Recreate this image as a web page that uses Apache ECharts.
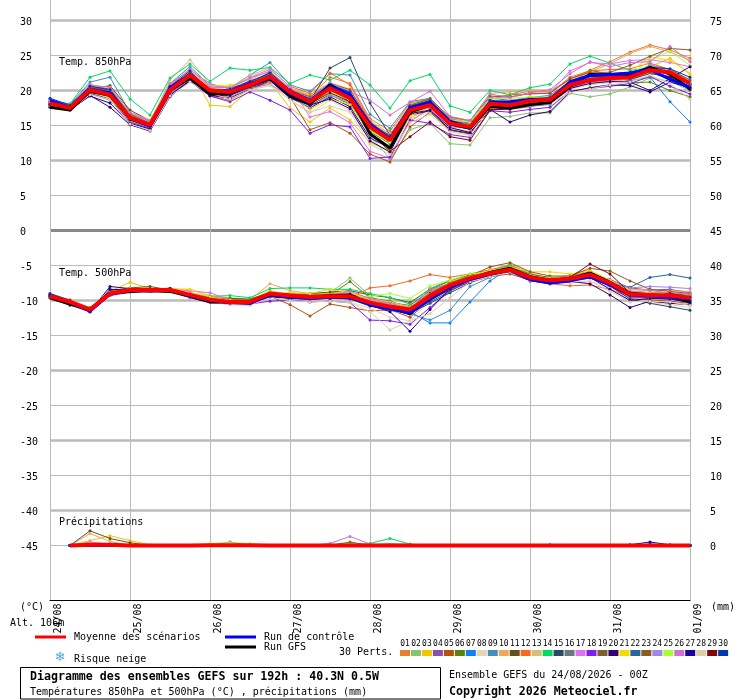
<!DOCTYPE html>
<html><head><meta charset="utf-8">
<style>html,body{margin:0;padding:0;background:#fff}#c{width:740px;height:700px}</style>
<script src="https://cdn.jsdelivr.net/npm/echarts@6/dist/echarts.min.js"></script>
</head><body><div id="c"></div>
<script>
const dates=['24/08','25/08','26/08','27/08','28/08','29/08','30/08','31/08','01/09'];
const leftTicks=[30,25,20,15,10,5,0,-5,-10,-15,-20,-25,-30,-35,-40,-45];
const rightTicks=[75,70,65,60,55,50,45,40,35,30,25,20,15,10,5,0];
const heavyTicks=[30,20,10,-10,-20,-30,-40];
const zeroTick=[0];
const memberLabels=['01','02','03','04','05','06','07','08','09','10','11','12','13','14','15','16','17','18','19','20','21','22','23','24','25','26','27','28','29','30'];
const memberColors=['#E87D2E','#85C56B','#F2C500','#8E4DA8','#B5510F','#5A8208','#0F80F5','#E8D5AF','#3E8FBB','#EBA95A','#64501E','#FC6620','#D2C07A','#00D962','#264A63','#6B7680','#DF70F0','#7D1FF0','#7B5F2E','#32006F','#F2DC00','#26669E','#8E5A20','#9F86E8','#A6FF33','#D070D0','#1C0098','#E0CDA8','#820608','#0038B4'];

const t850Mean=[18.2,17.5,20.1,19.4,16.1,15.1,20.1,22.2,20.0,19.8,20.8,22.0,19.8,18.4,20.3,18.9,14.8,12.9,17.2,17.9,15.3,14.8,18.1,17.9,18.5,18.7,20.8,21.5,21.8,21.9,22.9,22.6,21.0];
const t850Control=[18.6,17.6,20.2,19.7,16.0,14.9,20.4,22.3,19.9,19.9,21.0,21.8,19.6,18.3,20.6,19.4,15.2,13.0,17.5,18.3,15.6,14.7,18.3,18.4,18.7,18.7,21.2,22.1,22.3,22.5,23.0,21.6,20.4];
const t850Gfs=[17.6,17.2,19.9,19.3,16.0,15.0,20.0,21.8,19.5,19.6,20.9,21.7,19.2,18.1,20.8,19.2,13.8,11.8,16.9,17.9,15.2,14.6,17.7,17.5,18.0,18.3,20.6,22.3,22.2,22.1,23.3,22.4,20.2];
const t850Members=[
[18.6,17.8,20.4,19.9,16.4,15.3,20.4,22.6,20.3,20.1,21.2,22.4,20.4,19.2,21.9,21.0,16.0,14.2,18.2,18.8,16.0,15.4,19.0,19.4,19.9,19.8,21.6,22.9,24.1,25.5,26.5,25.8,24.6],
[18.0,17.2,19.5,18.6,15.6,14.7,19.6,21.8,19.6,19.3,20.4,21.6,19.2,17.8,19.6,18.2,13.6,10.2,14.4,15.3,12.4,12.2,16.1,16.3,16.8,16.8,19.6,19.1,19.5,20.5,21.8,21.3,20.0],
[18.1,17.4,19.9,19.6,16.0,15.0,19.9,22.9,17.9,17.7,20.1,21.2,17.5,15.5,17.5,15.8,12.5,11.5,16.1,17.3,14.6,14.1,17.6,17.8,18.2,18.4,20.5,21.0,21.5,21.6,23.4,24.6,22.3],
[18.3,17.6,20.6,20.0,16.3,15.2,20.0,21.9,19.7,20.2,21.4,22.3,19.9,18.9,20.9,19.4,15.4,13.6,17.6,18.4,15.7,15.2,18.5,18.2,18.7,19.1,21.2,21.9,22.2,22.3,23.3,22.2,20.3],
[17.9,17.3,19.8,19.1,15.8,14.8,19.7,21.6,19.5,18.9,20.3,21.7,19.1,14.4,15.4,13.9,10.9,9.8,14.8,16.9,14.3,13.8,17.4,17.3,17.7,18.1,20.2,21.3,21.2,21.5,22.6,21.8,20.2],
[18.2,17.6,20.2,19.5,16.2,15.2,20.2,22.0,20.1,19.6,20.6,21.9,19.7,17.9,19.4,18.0,14.1,12.4,16.6,17.7,15.1,14.6,17.9,17.6,18.4,18.3,20.9,22.9,22.3,21.1,21.2,20.0,19.1],
[18.4,17.7,20.5,19.8,16.6,15.4,20.6,22.5,20.2,20.0,21.1,22.6,20.2,18.8,20.7,19.7,15.2,13.3,17.9,18.2,15.6,15.0,18.0,17.4,17.8,18.0,20.9,21.3,21.7,21.4,21.9,18.4,15.5],
[17.8,17.3,19.7,19.0,15.4,14.4,19.4,21.5,19.4,19.2,20.0,21.1,18.6,16.8,18.6,17.1,13.0,11.2,15.9,17.0,14.6,14.2,17.8,18.0,18.4,18.9,20.2,20.8,21.1,21.6,22.0,21.2,20.4],
[18.7,18.0,21.2,21.9,16.8,15.6,21.0,23.4,20.7,20.4,22.2,24.0,20.8,19.9,22.4,22.2,16.6,14.6,18.4,18.9,15.9,15.3,18.9,18.6,19.0,19.3,21.3,22.1,22.4,22.2,22.6,21.6,20.7],
[18.5,17.7,20.8,20.4,16.5,15.5,20.7,23.0,20.4,20.6,21.6,22.8,20.3,19.4,21.1,20.2,15.7,13.8,18.0,18.7,16.1,15.6,19.6,19.8,20.1,20.0,21.4,22.7,23.8,25.3,26.3,25.5,24.3],
[17.9,17.4,20.2,20.7,17.2,15.7,20.2,22.3,19.8,19.4,20.7,21.8,19.4,18.0,20.2,18.4,14.4,13.0,17.8,18.6,15.8,15.0,18.6,18.4,19.0,18.8,21.0,21.6,21.6,21.8,23.1,22.4,20.8],
[18.3,17.5,20.0,19.3,16.0,15.0,20.3,22.4,19.2,18.6,20.2,21.2,20.6,19.6,22.5,20.8,15.6,13.2,17.3,18.0,15.5,15.1,18.7,19.4,19.5,19.6,21.9,22.8,23.0,23.1,23.9,23.0,21.5],
[18.4,17.8,20.3,19.7,16.3,15.4,21.5,24.4,20.9,20.3,22.2,23.2,20.5,18.7,20.6,19.5,15.0,13.0,16.8,17.5,15.0,14.5,17.8,17.6,18.3,18.5,20.5,21.2,21.4,21.7,22.5,22.9,21.3],
[18.5,18.1,21.9,22.8,18.8,16.5,21.8,23.8,21.3,23.2,22.9,23.3,21.0,22.2,21.5,22.9,20.8,17.5,21.4,22.3,17.8,16.9,20.0,19.4,20.4,20.9,23.8,24.9,23.9,22.9,23.2,22.2,21.0],
[18.1,17.4,20.1,19.3,15.9,15.0,20.0,22.1,19.9,19.7,20.7,21.9,20.0,18.5,23.2,24.7,18.2,13.6,17.5,18.1,15.2,14.9,18.3,18.0,18.6,18.6,20.6,21.4,21.9,21.6,22.4,22.0,20.5],
[18.0,17.5,20.0,19.4,16.1,15.1,20.0,22.0,19.9,19.5,20.6,21.8,19.5,18.0,20.0,18.7,14.6,12.5,16.9,17.8,15.1,14.5,18.1,18.0,18.5,18.6,20.7,21.6,21.9,22.0,23.2,22.4,20.9],
[18.6,17.9,20.9,20.1,16.7,15.5,21.0,22.9,21.0,20.2,21.9,23.0,20.6,16.2,17.0,15.4,11.3,10.3,15.6,17.4,14.8,14.6,18.9,19.0,19.6,19.6,22.8,24.0,23.8,24.3,24.4,24.0,23.4],
[18.1,17.3,19.6,18.8,15.5,14.6,19.5,21.3,19.2,18.4,19.8,18.6,17.2,13.9,15.1,14.8,10.3,10.5,15.8,15.3,13.7,13.3,17.1,16.9,17.3,17.6,19.9,20.3,20.6,21.0,22.0,20.6,19.5],
[18.2,17.6,20.5,20.1,16.4,15.3,20.4,22.3,20.1,19.9,20.9,22.1,20.0,18.6,20.6,19.1,14.9,13.1,17.4,18.2,15.4,14.9,18.4,18.4,18.9,19.0,20.9,21.7,22.0,22.3,23.6,23.0,21.5],
[17.7,17.2,19.3,17.6,15.1,14.2,19.1,21.4,19.3,18.9,20.2,21.4,19.0,17.5,19.1,17.7,13.2,11.8,16.5,17.1,14.4,13.9,17.3,15.5,16.5,17.0,19.8,20.4,20.8,20.7,19.8,21.2,20.4],
[18.3,17.7,20.6,20.2,16.8,15.8,20.8,23.0,20.6,20.8,21.0,21.4,19.2,17.3,18.8,18.0,13.9,11.9,16.4,17.6,15.3,15.1,18.4,18.6,18.9,18.9,21.2,21.8,22.0,22.6,24.8,24.3,22.5],
[18.4,17.6,20.3,19.6,16.2,15.2,20.3,22.6,20.0,20.0,21.0,22.3,19.9,18.8,20.9,19.6,15.3,13.5,17.7,18.5,15.6,15.0,18.2,18.2,18.7,18.9,21.1,21.8,22.1,22.4,23.0,22.3,20.9],
[18.3,17.5,20.6,20.2,16.6,15.3,20.5,22.4,20.2,19.7,20.9,22.6,20.1,19.1,21.0,20.1,15.5,13.4,17.9,18.8,16.2,15.7,19.2,19.1,19.6,19.6,21.7,22.6,22.6,23.6,24.9,26.0,25.8],
[18.2,17.5,19.9,19.1,15.9,14.9,19.6,21.6,19.5,19.1,20.3,20.9,19.1,17.6,19.3,18.3,14.4,12.7,17.0,17.6,15.0,14.7,17.9,18.3,18.5,18.5,20.4,21.2,21.4,21.8,23.7,22.7,21.1],
[18.5,17.6,19.8,18.9,15.7,15.0,20.2,22.1,20.0,19.8,20.6,21.7,19.6,18.2,19.9,18.6,14.3,12.6,17.1,18.0,15.8,15.5,18.8,18.9,19.1,19.0,21.0,21.8,21.6,22.2,24.3,25.6,23.6],
[18.4,17.9,20.7,20.5,16.9,15.7,20.8,23.1,20.5,20.4,21.8,22.7,20.2,18.9,21.1,19.8,18.6,16.5,18.3,19.9,16.3,15.7,19.5,19.0,19.7,20.1,22.4,24.1,23.4,24.0,24.1,26.3,24.1],
[17.6,17.3,19.2,18.2,15.3,14.5,19.3,21.5,19.3,19.3,20.5,21.5,18.9,17.9,18.8,17.4,12.8,11.2,16.7,17.2,14.7,14.0,17.2,17.4,17.9,18.2,20.3,21.0,21.3,21.2,20.0,21.7,23.4],
[17.9,17.2,19.4,18.7,15.2,14.3,19.2,21.2,19.6,18.8,20.1,20.7,18.7,16.9,17.8,16.9,12.3,10.9,15.4,16.6,14.1,13.6,17.5,17.7,17.9,18.1,19.7,20.2,20.8,21.2,22.2,21.0,18.7],
[18.0,17.4,19.8,19.2,15.8,14.9,19.8,21.9,19.8,19.6,20.5,21.7,19.4,18.1,19.7,18.4,14.0,11.3,13.4,15.5,13.4,12.9,17.2,17.5,18.0,18.2,20.5,21.3,21.6,21.8,22.8,21.9,20.1],
[18.9,17.9,20.6,20.1,16.3,15.1,20.6,22.8,20.0,20.2,21.3,22.5,20.1,18.8,20.8,19.8,15.1,13.4,17.7,18.5,15.4,14.7,18.6,18.2,18.8,19.0,21.4,22.3,22.4,22.6,23.3,23.1,21.9]
];

const t500Mean=[-9.4,-10.2,-11.3,-9.0,-8.5,-8.5,-8.5,-9.2,-9.9,-10.2,-10.2,-9.0,-9.3,-9.5,-9.4,-9.4,-10.3,-10.9,-11.3,-9.4,-7.8,-6.8,-6.1,-5.6,-6.7,-7.1,-6.9,-6.3,-7.5,-9.1,-9.2,-9.3,-9.6];
const t500Control=[-9.3,-10.3,-11.5,-9.1,-8.5,-8.6,-8.5,-9.3,-10.0,-10.3,-10.4,-9.2,-9.5,-9.7,-9.5,-9.6,-10.6,-11.2,-11.8,-9.8,-8.1,-7.0,-6.2,-5.7,-7.0,-7.5,-7.2,-6.6,-7.8,-9.2,-9.3,-9.5,-9.8];
const t500Gfs=[-9.6,-10.5,-11.4,-9.0,-8.7,-8.6,-8.7,-9.4,-10.2,-10.2,-10.2,-9.3,-9.5,-9.6,-9.3,-9.2,-10.4,-11.0,-11.9,-9.3,-7.9,-6.9,-6.0,-5.4,-6.6,-7.1,-6.9,-6.1,-7.4,-9.0,-9.2,-9.4,-10.2];
const t500Members=[
[-9.2,-10.0,-11.1,-8.9,-8.4,-8.4,-8.4,-9.0,-9.7,-10.0,-10.0,-8.8,-9.1,-9.3,-9.1,-9.1,-9.8,-10.6,-10.9,-8.8,-7.5,-6.6,-5.8,-5.3,-6.4,-6.9,-6.6,-6.0,-7.3,-8.7,-8.9,-8.9,-9.1],
[-9.5,-10.6,-11.1,-9.3,-8.6,-8.6,-8.5,-9.4,-10.0,-10.1,-10.3,-9.1,-9.4,-9.4,-8.9,-6.8,-9.3,-11.0,-11.4,-9.6,-8.0,-6.9,-6.3,-5.9,-6.9,-7.2,-7.0,-6.5,-7.7,-9.4,-9.5,-9.7,-10.0],
[-9.6,-10.3,-11.6,-8.7,-7.4,-8.3,-8.6,-8.4,-9.3,-9.6,-9.9,-8.6,-9.2,-9.2,-9.0,-8.9,-9.9,-11.2,-11.9,-9.2,-7.3,-6.7,-6.0,-5.3,-6.5,-7.0,-6.8,-6.3,-7.6,-9.3,-9.0,-9.4,-9.8],
[-9.3,-10.1,-11.4,-8.8,-8.5,-8.7,-8.3,-9.1,-9.8,-10.4,-10.4,-9.2,-9.5,-9.7,-9.5,-9.6,-10.4,-10.3,-10.7,-8.6,-7.5,-6.6,-6.2,-5.7,-6.9,-7.4,-7.2,-6.2,-7.0,-8.2,-8.5,-8.4,-8.9],
[-9.4,-10.3,-11.2,-9.2,-8.7,-8.4,-8.7,-9.3,-10.1,-10.3,-10.4,-9.4,-10.6,-12.2,-10.5,-11.0,-11.5,-11.3,-12.4,-9.9,-8.5,-7.4,-6.6,-6.2,-7.1,-7.6,-7.2,-6.8,-7.9,-9.7,-9.9,-10.1,-10.4],
[-9.6,-10.7,-11.0,-9.1,-8.6,-8.3,-8.6,-9.4,-9.8,-9.8,-9.9,-9.0,-9.0,-9.2,-9.2,-7.3,-9.6,-10.1,-11.0,-8.9,-7.4,-6.4,-5.9,-4.9,-6.2,-6.9,-6.5,-5.9,-7.4,-9.0,-9.3,-9.5,-10.2],
[-9.2,-10.1,-11.5,-9.0,-8.4,-8.6,-8.3,-9.0,-9.9,-10.3,-10.1,-9.0,-9.3,-9.6,-9.6,-9.4,-10.2,-11.4,-11.6,-13.2,-13.2,-10.2,-7.2,-5.4,-6.6,-7.2,-7.0,-6.3,-7.4,-8.7,-8.9,-9.0,-9.4],
[-9.5,-10.4,-11.2,-9.2,-8.7,-8.5,-8.8,-8.9,-10.0,-10.5,-10.4,-9.1,-9.6,-9.8,-9.7,-10.2,-11.1,-12.4,-12.9,-10.1,-8.2,-7.0,-6.3,-5.7,-6.9,-7.4,-7.5,-7.3,-8.1,-10.0,-10.3,-10.6,-11.0],
[-9.3,-10.2,-11.3,-9.1,-8.6,-8.4,-8.6,-9.2,-9.8,-10.1,-10.2,-8.9,-9.2,-9.5,-9.2,-9.3,-10.3,-11.0,-11.9,-12.8,-11.4,-8.0,-6.7,-5.6,-6.8,-7.3,-7.0,-6.5,-7.8,-9.2,-9.5,-9.7,-10.1],
[-9.0,-9.9,-11.0,-8.8,-8.3,-8.4,-8.2,-8.8,-9.6,-10.0,-9.9,-7.6,-8.6,-9.0,-8.9,-8.9,-9.9,-10.4,-11.0,-9.1,-7.4,-6.4,-5.7,-4.8,-6.1,-6.8,-6.4,-5.8,-7.1,-8.4,-8.5,-8.6,-8.7],
[-9.6,-10.5,-11.2,-8.6,-8.2,-8.0,-8.5,-9.3,-9.6,-9.7,-9.8,-8.9,-9.1,-9.0,-8.8,-8.6,-9.2,-9.6,-10.3,-8.4,-7.2,-6.3,-5.9,-5.1,-6.3,-6.7,-6.7,-6.0,-7.2,-8.8,-9.1,-9.0,-9.3],
[-9.2,-9.9,-11.2,-9.1,-8.5,-8.5,-8.5,-9.2,-9.9,-10.2,-10.2,-9.0,-9.4,-9.5,-9.4,-9.6,-8.2,-7.9,-7.2,-6.3,-6.7,-6.2,-5.6,-5.0,-6.4,-7.6,-7.9,-7.8,-8.4,-9.5,-9.6,-9.6,-9.7],
[-9.4,-10.3,-11.1,-9.0,-8.7,-8.6,-8.4,-9.1,-9.8,-10.1,-10.3,-9.1,-9.5,-9.4,-9.5,-9.4,-10.6,-11.4,-12.0,-10.0,-8.0,-7.0,-6.1,-5.5,-6.6,-7.0,-6.6,-6.1,-7.7,-9.6,-9.7,-9.8,-10.1],
[-9.3,-10.2,-11.0,-9.0,-8.5,-8.6,-8.4,-9.3,-9.4,-9.3,-9.6,-8.3,-8.2,-8.2,-8.4,-8.4,-9.0,-9.6,-10.5,-8.3,-7.1,-6.5,-5.8,-5.0,-6.5,-7.0,-6.7,-6.2,-7.3,-9.0,-9.1,-9.2,-9.4],
[-9.5,-10.4,-11.4,-9.2,-8.6,-8.7,-8.6,-9.3,-10.0,-10.3,-10.3,-9.2,-9.5,-9.8,-9.7,-9.8,-10.8,-11.4,-11.8,-10.4,-8.9,-7.5,-6.3,-5.6,-6.8,-7.1,-7.0,-6.4,-7.9,-9.8,-10.4,-10.9,-11.4],
[-9.4,-10.2,-11.3,-9.1,-8.5,-8.4,-8.6,-9.2,-10.0,-10.2,-10.1,-9.1,-9.3,-9.4,-9.4,-9.3,-10.1,-10.9,-11.2,-9.5,-7.9,-6.9,-6.1,-5.5,-6.7,-7.1,-6.9,-6.3,-7.6,-9.0,-9.2,-9.4,-9.6],
[-9.3,-10.1,-11.3,-8.9,-8.4,-8.5,-8.4,-8.6,-8.9,-9.9,-10.4,-9.0,-9.3,-9.6,-9.3,-9.2,-10.1,-10.6,-11.3,-9.0,-7.6,-6.6,-6.0,-5.5,-6.8,-7.1,-6.8,-6.2,-7.4,-8.9,-9.2,-9.5,-9.7],
[-9.5,-10.4,-11.5,-9.3,-8.8,-8.6,-8.7,-9.6,-10.3,-10.5,-10.5,-10.1,-9.9,-10.2,-10.1,-10.3,-12.8,-12.9,-13.4,-11.0,-8.6,-7.3,-6.4,-5.9,-7.0,-7.5,-7.2,-6.6,-7.8,-9.5,-9.6,-9.8,-10.0],
[-9.4,-10.3,-11.2,-9.0,-8.6,-8.4,-8.4,-9.1,-9.8,-10.1,-10.3,-9.0,-9.3,-9.5,-9.3,-9.4,-10.4,-10.8,-11.4,-9.4,-7.7,-6.7,-5.9,-5.3,-6.5,-7.0,-6.8,-6.1,-7.5,-9.2,-9.3,-9.3,-9.6],
[-9.5,-10.5,-11.6,-8.0,-8.3,-8.5,-8.3,-9.3,-10.1,-10.3,-10.4,-9.5,-9.7,-9.8,-9.7,-9.6,-10.5,-11.1,-11.8,-9.9,-8.1,-7.0,-6.3,-5.9,-7.2,-7.6,-7.3,-7.6,-9.2,-11.0,-10.1,-10.4,-10.6],
[-9.3,-10.0,-11.1,-8.9,-8.3,-8.5,-8.3,-8.4,-9.5,-10.0,-10.1,-8.9,-8.9,-9.0,-8.4,-8.9,-9.7,-10.2,-10.9,-8.8,-7.3,-6.5,-5.7,-5.2,-5.9,-5.9,-6.2,-5.7,-7.1,-8.6,-8.9,-9.1,-9.4],
[-9.2,-10.1,-11.3,-9.1,-8.5,-8.6,-8.6,-9.3,-9.9,-10.2,-10.3,-9.1,-9.4,-9.6,-9.4,-9.3,-10.2,-10.9,-11.6,-10.2,-8.7,-7.0,-6.2,-5.7,-6.8,-7.2,-6.9,-6.4,-7.6,-8.1,-6.7,-6.3,-6.8],
[-9.4,-10.2,-11.2,-9.0,-8.6,-8.5,-8.5,-9.2,-10.0,-10.1,-10.2,-9.0,-9.3,-9.5,-9.5,-9.5,-10.4,-10.7,-11.1,-8.9,-7.5,-6.5,-5.2,-4.6,-5.9,-6.5,-6.5,-5.4,-5.8,-7.2,-8.4,-8.7,-9.0],
[-9.3,-10.2,-11.3,-9.0,-8.6,-8.5,-8.5,-9.1,-9.9,-10.3,-10.2,-9.1,-9.2,-9.4,-9.4,-9.3,-10.0,-10.8,-11.0,-9.2,-7.7,-6.8,-6.1,-5.6,-6.6,-7.0,-6.6,-6.1,-7.4,-8.2,-8.0,-8.1,-8.3],
[-9.4,-10.2,-11.1,-9.0,-8.4,-8.5,-8.6,-9.3,-9.9,-10.0,-10.2,-9.0,-9.3,-9.5,-9.4,-9.5,-9.4,-9.0,-9.7,-7.9,-7.1,-6.2,-5.9,-5.4,-6.4,-6.8,-6.7,-6.2,-7.3,-9.0,-9.4,-9.3,-9.5],
[-9.3,-10.1,-11.2,-8.9,-8.5,-8.4,-8.4,-9.0,-9.8,-10.1,-10.1,-8.9,-9.2,-9.5,-9.3,-8.7,-9.7,-10.4,-11.2,-8.4,-7.6,-6.7,-6.0,-5.5,-6.5,-7.0,-6.8,-6.2,-7.5,-8.7,-8.6,-8.9,-9.1],
[-9.2,-10.3,-11.6,-8.4,-8.5,-8.6,-8.3,-9.2,-10.1,-10.4,-10.5,-9.4,-9.6,-9.6,-9.3,-9.1,-10.7,-11.6,-14.4,-11.3,-8.3,-7.1,-6.4,-5.8,-7.0,-7.4,-7.0,-6.7,-8.4,-10.0,-9.7,-9.8,-10.3],
[-9.5,-10.4,-11.3,-9.2,-8.7,-8.7,-8.6,-9.5,-10.2,-10.6,-10.7,-9.5,-10.0,-10.2,-10.1,-10.3,-11.6,-14.2,-12.9,-11.9,-9.6,-7.3,-6.6,-5.9,-7.1,-7.5,-7.4,-7.2,-8.7,-10.2,-10.1,-10.2,-10.7],
[-9.4,-10.3,-11.2,-9.0,-8.5,-8.5,-8.6,-9.2,-9.9,-10.2,-10.2,-9.1,-9.4,-9.6,-9.4,-9.5,-10.4,-11.1,-11.8,-10.0,-8.4,-7.0,-6.0,-5.5,-6.6,-7.0,-6.7,-4.8,-6.2,-8.9,-9.4,-9.0,-9.5],
[-9.0,-10.0,-11.6,-9.0,-8.7,-8.4,-8.5,-9.4,-10.1,-10.4,-10.4,-9.4,-9.4,-9.7,-9.5,-9.6,-10.6,-11.2,-11.7,-9.9,-8.0,-6.9,-6.1,-5.6,-6.9,-7.4,-7.0,-6.4,-7.7,-9.3,-9.5,-9.6,-10.0]
];

/* precipitation, mm, by member and time step; every other step is 0, the first step has no value */
const precipWet={
 '03':{2:0.7,3:1.4,4:0.7,5:0.1},'11':{2:2.1,3:1.0,4:0.4},'10':{2:1.7,3:0.6},'21':{2:0.3,3:0.2},'17':{2:0.5,3:0.2},
 '25':{8:0.3,9:0.4,10:0.3},'04':{9:0.5},'13':{9:0.2},'26':{14:0.3,15:1.3,16:0.2},'06':{15:0.5},'14':{16:0.3,17:1.0,18:0.2},
 '27':{29:0.1,30:0.5,31:0.1},'30':{25:0.1,30:0.2}
};
const precipMeanWet={2:0.1,3:0.1,8:0.05,9:0.05,10:0.05,15:0.05,17:0.05};

const categories=[];
dates.forEach((d,i)=>{categories.push(d);if(i<dates.length-1)categories.push(d+' 06',d+' 12',d+' 18');});
const precipOf=w=>categories.map((_,i)=>i===0?null:(w&&w[i])||0);

const mono='"DejaVu Sans Mono",monospace';
const series=[];
const thin=(data,color,yAxisIndex)=>({type:'line',data,yAxisIndex,silent:true,animation:false,showAllSymbol:true,symbol:'circle',symbolSize:3,
  itemStyle:{color},lineStyle:{color,width:1},z:3});
const thick=(data,color,width,yAxisIndex,z)=>({type:'line',data,yAxisIndex,silent:true,animation:false,symbol:'none',lineStyle:{color,width},z});
memberColors.forEach((c,i)=>{
  series.push(thin(t850Members[i],c,0));
  series.push(thin(t500Members[i],c,0));
  series.push(thin(precipOf(precipWet[memberLabels[i]]),c,1));
});
series.push(thick(t850Gfs,'#000',3,0,4),thick(t500Gfs,'#000',3,0,4),thick(precipOf(null),'#000',3,1,4));
series.push(thick(t850Control,'#0000ff',3,0,5),thick(t500Control,'#0000ff',3,0,5),thick(precipOf(null),'#0000ff',3,1,5));
series.push(thick(t850Mean,'#ff0000',4,0,6),thick(t500Mean,'#ff0000',4,0,6),thick(precipOf(precipMeanWet),'#ff0000',4,1,6));

const T=(x,y,text,extra)=>({type:'text',x,y,silent:true,z:20,style:Object.assign({text,fill:'#000',font:'10px '+mono,textVerticalAlign:'middle',textAlign:'left'},extra||{})});
const L=(x1,y,x2,color)=>({type:'rect',silent:true,z:20,shape:{x:x1,y:y-1.5,width:x2-x1,height:3},style:{fill:color}});
const bold='bold 11.6px '+mono;
const graphic=[
 T(59,62,'Temp. 850hPa'),T(59,273,'Temp. 500hPa'),T(59,522,'Précipitations'),
 T(20,607,'(°C)'),T(711,607,'(mm)'),T(10,623,'Alt. 106m'),
 L(35,637,66,'#ff0000'),T(74,637,'Moyenne des scénarios'),
 L(225,637,256,'#0000ff'),T(264,637,'Run de contrôle'),
 L(225,647,256,'#000000'),T(264,647,'Run GFS'),
 T(339,652,'30 Perts.'),
 T(60,658,'❄',{fill:'#4FA8E0',font:'13px "DejaVu Sans"',textAlign:'center'}),T(74,659,'Risque neige'),
 {type:'rect',silent:true,z:20,shape:{x:20.5,y:667.5,width:420,height:31.5},style:{fill:'#fff',stroke:'#000',lineWidth:1}},
 {type:'text',x:30,y:677,z:21,silent:true,style:{text:'Diagramme des ensembles GEFS sur 192h : 40.3N 0.5W',fill:'#000',font:bold,textVerticalAlign:'middle'}},
 {type:'text',x:30,y:692,z:21,silent:true,style:{text:'Températures 850hPa et 500hPa (°C) , précipitations (mm)',fill:'#000',font:'10px '+mono,textVerticalAlign:'middle'}},
 T(449,675,'Ensemble GEFS du 24/08/2026 - 00Z'),
 {type:'text',x:449,y:692,z:21,silent:true,style:{text:'Copyright 2026 Meteociel.fr',fill:'#000',font:bold,textVerticalAlign:'middle'}}
];
memberColors.forEach((c,i)=>{
  const x=400+i*10.97;
  graphic.push({type:'rect',silent:true,z:20,shape:{x,y:650,width:10,height:6},style:{fill:c}});
  graphic.push(T(x+5,644,memberLabels[i],{font:'8px '+mono,textAlign:'center'}));
});

const minT=-52.857,maxT=32.929;
const labelStyle={color:'#000',fontFamily:mono,fontSize:10};
const hiddenBits={axisLine:{show:false}};
const helperAxis=(ticks,color,width)=>({type:'value',min:minT,max:maxT,position:'left',...hiddenBits,
  axisTick:{show:false,customValues:ticks},axisLabel:{show:false,customValues:ticks},
  splitLine:{show:true,customValues:ticks,lineStyle:{color,width,type:'solid'}}});
const chart=echarts.init(document.getElementById('c'),null,{renderer:'canvas'});
chart.setOption({
 animation:false,backgroundColor:'#fff',
 grid:{left:50,top:0,width:640,height:600.5,containLabel:false},
 xAxis:{type:'category',boundaryGap:false,data:categories,
   axisLine:{show:true,onZero:false,lineStyle:{color:'#000',width:1}},axisTick:{show:false},
   splitLine:{show:true,interval:3,lineStyle:{color:'#bbbbbb',width:1}},
   axisLabel:Object.assign({},labelStyle,{interval:3,rotate:90,margin:3,verticalAlign:'top',padding:[3,0,0,0],showMinLabel:true,showMaxLabel:true,
     formatter:v=>v.length===5?v:''})},
 yAxis:[
  {type:'value',min:minT,max:maxT,position:'left',...hiddenBits,axisTick:{show:false,customValues:leftTicks},
   splitLine:{show:true,customValues:leftTicks,lineStyle:{color:'#bbbbbb',width:1,type:'solid'}},
   axisLabel:Object.assign({},labelStyle,{customValues:leftTicks,margin:30,align:'left',verticalAlign:'top',padding:[-3,0,0,0],showMinLabel:true,showMaxLabel:true})},
  {type:'value',min:minT+45,max:maxT+45,position:'right',...hiddenBits,axisTick:{show:false,customValues:rightTicks},
   splitLine:{show:false},
   axisLabel:Object.assign({},labelStyle,{customValues:rightTicks,margin:20,align:'left',verticalAlign:'top',padding:[-3,0,0,0],showMinLabel:true,showMaxLabel:true})},
  helperAxis(heavyTicks,'#bbbbbb',2.5),
  helperAxis(zeroTick,'#888888',3)
 ],
 series,graphic
});
</script></body></html>
